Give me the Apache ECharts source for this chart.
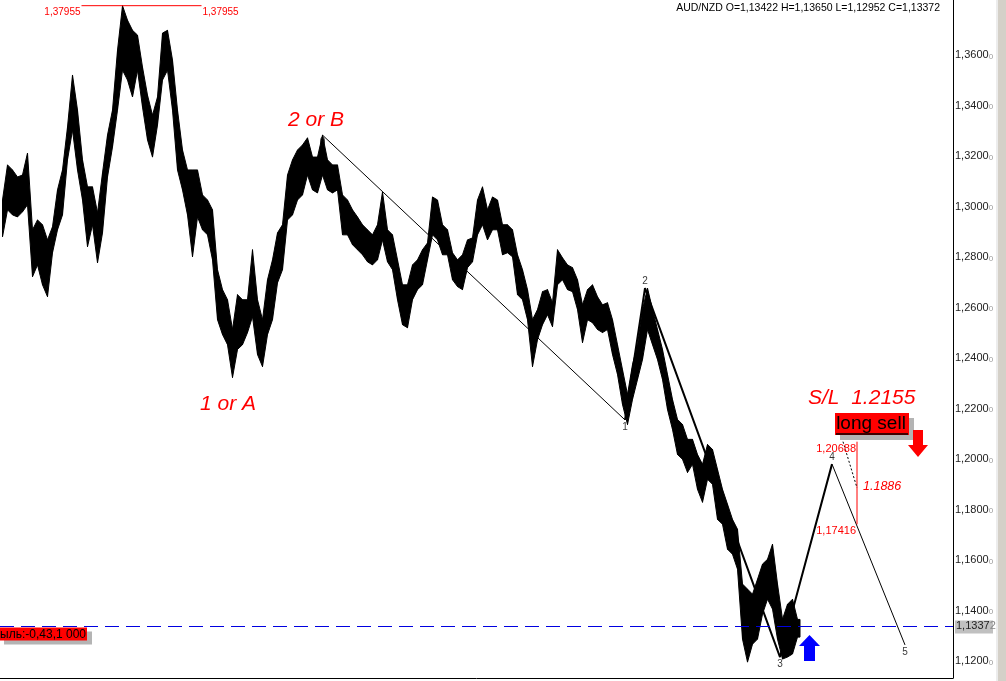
<!DOCTYPE html>
<html><head><meta charset="utf-8">
<script src="https://cdn.jsdelivr.net/npm/echarts@6/dist/echarts.min.js"></script>
<style>html,body{margin:0;padding:0;background:#fff;overflow:hidden}#c{width:1006px;height:681px}</style>
</head><body><div id="c"></div>
<script>
// ---- data ----
const symbolName = 'AUD/NZD';
const lastBar = {o: 1.13422, h: 1.13650, l: 1.12952, c: 1.13372};
// one bar every time step (high / low)
const barHigh = [
1.3026,1.3165,1.3145,1.3117,1.3125,1.3212,1.2908,1.2947,1.2928,1.2868,
1.2920,1.3066,1.3145,1.3315,1.3521,1.3382,1.3185,1.3078,1.3078,1.2975,
1.3133,1.3283,1.3382,1.3619,1.37955,1.3738,1.3698,1.3679,1.3552,1.3441,
1.3362,1.3434,1.3687,1.3698,1.3580,1.3382,1.3224,1.3145,1.3145,1.3145,
1.3046,1.3026,1.2987,1.2750,1.2671,1.2631,1.2513,1.2651,1.2631,1.2631,
1.2829,1.2631,1.2552,1.2710,1.2789,1.2896,1.2928,1.3125,1.3185,1.3224,
1.3244,1.3272,1.3196,1.3196,1.3283,1.3185,1.3165,1.3165,1.3046,1.3026,
1.2987,1.2959,1.2928,1.2908,1.2888,1.2928,1.3058,1.2908,1.2888,1.2789,
1.2690,1.2690,1.2769,1.2789,1.2829,1.2856,1.3038,1.3026,1.2928,1.2908,
1.2817,1.2789,1.2809,1.2868,1.2876,1.3026,1.3078,1.2987,1.3038,1.3026,
1.2928,1.2928,1.2908,1.2809,1.2750,1.2671,1.2552,1.2592,1.2663,1.2671,
1.2619,1.2829,1.2797,1.2769,1.2758,1.2710,1.2611,1.2671,1.2690,1.2643,
1.2611,1.2619,1.2552,1.2453,1.2354,1.2256,1.2374,1.2453,1.2592,1.2677,
1.2592,1.2513,1.2434,1.2335,1.2236,1.2157,1.2137,1.2078,1.2078,1.2018,
1.1979,1.2058,1.2038,1.1959,1.1880,1.1821,1.1761,1.1722,1.1505,1.1485,
1.1465,1.1524,1.1584,1.1603,1.1663,1.1505,1.1366,1.1425,1.1445,1.1365
];
const barLow = [
1.2880,1.2987,1.2967,1.2959,1.2979,1.3007,1.2722,1.2769,1.2690,1.2643,
1.2817,1.2908,1.2967,1.3185,1.3303,1.3145,1.3026,1.2841,1.2928,1.2777,
1.2896,1.3117,1.3236,1.3382,1.3540,1.3501,1.3434,1.3540,1.3394,1.3264,
1.3196,1.3323,1.3501,1.3540,1.3382,1.3145,1.3066,1.2967,1.2801,1.2959,
1.2908,1.2888,1.2789,1.2552,1.2493,1.2453,1.2323,1.2434,1.2453,1.2501,
1.2564,1.2414,1.2366,1.2493,1.2552,1.2698,1.2750,1.2947,1.2967,1.3026,
1.3046,1.3125,1.3066,1.3054,1.3125,1.3066,1.3054,1.3066,1.2888,1.2888,
1.2849,1.2829,1.2809,1.2781,1.2769,1.2789,1.2868,1.2781,1.2750,1.2631,
1.2532,1.2520,1.2631,1.2671,1.2690,1.2789,1.2888,1.2868,1.2809,1.2809,
1.2710,1.2683,1.2671,1.2758,1.2781,1.2888,1.2928,1.2868,1.2908,1.2908,
1.2809,1.2817,1.2801,1.2651,1.2631,1.2552,1.2366,1.2473,1.2532,1.2572,
1.2524,1.2690,1.2710,1.2671,1.2663,1.2592,1.2461,1.2552,1.2540,1.2513,
1.2501,1.2513,1.2414,1.2335,1.2216,1.2137,1.2236,1.2315,1.2394,1.2513,
1.2453,1.2394,1.2315,1.2196,1.2117,1.2018,1.1999,1.1947,1.1979,1.1880,
1.1829,1.1920,1.1900,1.1761,1.1742,1.1643,1.1623,1.1564,1.1287,1.1196,
1.1267,1.1287,1.1386,1.1445,1.1406,1.1287,1.1208,1.1216,1.1228,1.1295
];
const yTicks = [1.12,1.14,1.16,1.18,1.20,1.22,1.24,1.26,1.28,1.30,1.32,1.34,1.36];
const waveNames = ['0','1','2','3','4','5'];
const waveBar   = [64.0, 124.5, 128.5, 155.5, 165.9, 180.5];
const wavePrice = [1.3283, 1.2155, 1.2677, 1.1216, 1.1980, 1.1264];
const waveLabelPos = ['bottom','bottom','top','bottom','top','bottom'];
const topPrice = 1.37955;
const topLineBars = [15.8, 39.8];
const fibHigh = 1.20688, fibLow = 1.17416, fibMid = 1.1886;
const fibBar = 170.9, fibDotBar = 168.1;
const stopLoss = '1.2155';
const lastPrice = 1.13372;
const profitText = 'Прибыль:-0,43,1 000';
const waveTitles = ['2 or B', '1 or A'];
const signalText = 'long sell';

// ---- chart ----
const FONT = 'Liberation Sans, Arial, sans-serif';
const fmt = v => v.toFixed(5).replace('.', ',');
const chart = echarts.init(document.getElementById('c'), null, {renderer: 'canvas'});
const bars = barHigh.map((h, i) => [i, barLow[i], h]);
const wavePts = waveBar.map((b, i) => [b, wavePrice[i]]);
const nBars = bars.length;

chart.setOption({
  animation: false,
  backgroundColor: '#fff',
  grid: {left: 0, right: 53, top: 0, bottom: 3, containLabel: false, outerBoundsMode: 'none'},
  xAxis: {type: 'value', min: -0.5, max: 190.1, axisLine: {show: true, onZero: false, lineStyle: {color: '#000', width: 1}},
    axisTick: {show: false}, axisLabel: {show: false}, splitLine: {show: false}},
  yAxis: {type: 'value', position: 'right', min: 1.1133, max: 1.3818, scale: true,
    axisLine: {show: true, onZero: false, lineStyle: {color: '#000', width: 1}}, axisTick: {show: false}, splitLine: {show: false},
    axisLabel: {customValues: yTicks, margin: 2, fontFamily: FONT,
      formatter: v => { const s = fmt(v); return '{a|' + s.slice(0, -1) + '}{b|' + s.slice(-1) + '}'; },
      rich: {a: {fontSize: 11, color: '#222', fontFamily: FONT}, b: {fontSize: 8, color: '#999', fontFamily: FONT, verticalAlign: 'bottom'}}}},
  series: [
    {type: 'custom', name: symbolName, data: bars, encode: {x: 0, y: [1, 2]}, z: 2,
      renderItem: function (params, api) {
        const i = api.value(0), lo = api.value(1), hi = api.value(2);
        const j = Math.min(i + 1, nBars - 1);
        const a = api.coord([i, hi]), b = api.coord([i, lo]);
        const c = api.coord([j === i ? i + 0.5 : j, barHigh[j]]), d = api.coord([j === i ? i + 0.5 : j, barLow[j]]);
        return {type: 'polygon', shape: {points: [a, c, d, b]},
          style: {fill: '#000', stroke: '#000', lineWidth: 1}};
      }},
    {type: 'line', data: wavePts.slice(0, 2), showSymbol: false, lineStyle: {color: '#000', width: 1}, z: 3, silent: true},
    {type: 'line', data: wavePts.slice(1, 5), showSymbol: false, lineStyle: {color: '#000', width: 2}, z: 3, silent: true},
    {type: 'line', data: wavePts.slice(4, 6), showSymbol: false, lineStyle: {color: '#000', width: 1}, z: 3, silent: true,
      markLine: {silent: true, symbol: 'none', z: 5, precision: 5, label: {show: false},
        lineStyle: {color: '#0000e0', width: 1, type: [14, 7]}, data: [{yAxis: lastPrice}]}},
    {type: 'scatter', symbolSize: 0, z: 4, silent: true,
      data: wavePts.map((p, i) => ({value: p, label: {show: true, position: waveLabelPos[i], distance: 2,
        formatter: waveNames[i], color: '#000', fontSize: 10, fontFamily: FONT}}))},
    {type: 'line', data: [[topLineBars[0], topPrice], [topLineBars[1], topPrice]], showSymbol: false,
      lineStyle: {color: '#ff0000', width: 1}, z: 3, silent: true},
    {type: 'line', data: [[fibBar, fibHigh], [fibBar, fibLow]], showSymbol: false,
      lineStyle: {color: '#ff0000', width: 1}, z: 3, silent: true},
    {type: 'line', data: [[fibDotBar, fibHigh], [fibBar, fibMid]], showSymbol: false,
      lineStyle: {color: '#000', width: 1, type: [2, 2]}, z: 3, silent: true}
  ]
});

const px = (b, p) => chart.convertToPixel({gridIndex: 0}, [b, p]);
const tl = px(topLineBars[0], topPrice), tr = px(topLineBars[1], topPrice);
const fh = px(fibBar, fibHigh), fl = px(fibBar, fibLow), fm = px(fibBar, fibMid);
const lp = px(0, lastPrice);
const redItalic = {fill: '#ff0000', font: 'italic 21px ' + FONT};
const lastStr = fmt(lastPrice);

chart.setOption({graphic: [
  {type: 'rect', shape: {x: 996, y: 0, width: 10, height: 681}, style: {fill: '#d4d0c8'}, z: 1},
  {type: 'rect', shape: {x: 996, y: 0, width: 2, height: 681}, style: {fill: '#ececec'}, z: 1},
  {type: 'text', x: 940, y: 8, style: {text: symbolName + ' O=' + fmt(lastBar.o) + ' H=' + fmt(lastBar.h) + ' L=' + fmt(lastBar.l) + ' C=' + fmt(lastBar.c),
    fill: '#000', font: '10.5px ' + FONT, align: 'right', verticalAlign: 'middle'}, z: 10},
  {type: 'text', x: tl[0] - 1, y: tl[1] + 7, style: {text: fmt(topPrice), fill: '#ff0000', font: '10px ' + FONT, align: 'right', verticalAlign: 'middle'}, z: 10},
  {type: 'text', x: tr[0] + 1, y: tr[1] + 7, style: {text: fmt(topPrice), fill: '#ff0000', font: '10px ' + FONT, align: 'left', verticalAlign: 'middle'}, z: 10},
  {type: 'text', x: 288, y: 120, style: Object.assign({text: waveTitles[0], align: 'left', verticalAlign: 'middle'}, redItalic), z: 10},
  {type: 'text', x: 200, y: 404, style: Object.assign({text: waveTitles[1], align: 'left', verticalAlign: 'middle'}, redItalic), z: 10},
  {type: 'text', x: 808, y: 398, style: Object.assign({text: 'S/L  ' + stopLoss, align: 'left', verticalAlign: 'middle'}, redItalic), z: 10},
  {type: 'rect', shape: {x: 840, y: 418, width: 74, height: 22}, style: {fill: '#b4b4b4'}, z: 10},
  {type: 'rect', shape: {x: 835, y: 413, width: 74, height: 22}, style: {fill: '#ff0000'}, z: 11},
  {type: 'text', x: 871, y: 424, style: {text: signalText, fill: '#000', font: '19px ' + FONT, align: 'center', verticalAlign: 'middle'}, z: 12},
  {type: 'line', shape: {x1: 836, y1: 434, x2: 908, y2: 434}, style: {stroke: '#000', lineWidth: 1.5}, z: 12},
  {type: 'polygon', shape: {points: [[913, 430], [923, 430], [923, 445], [928, 445], [918, 457], [908, 445], [913, 445]]}, style: {fill: '#ff0000'}, z: 10},
  {type: 'polygon', shape: {points: [[809.5, 635], [820, 646], [815, 646], [815, 661], [804, 661], [804, 646], [799, 646]]}, style: {fill: '#0000ff'}, z: 10},
  {type: 'text', x: fh[0] - 1, y: fh[1] + 7, style: {text: fmt(fibHigh), fill: '#ff0000', font: '11px ' + FONT, align: 'right', verticalAlign: 'middle'}, z: 10},
  {type: 'text', x: fl[0] - 1, y: fl[1] + 7, style: {text: fmt(fibLow), fill: '#ff0000', font: '11px ' + FONT, align: 'right', verticalAlign: 'middle'}, z: 10},
  {type: 'text', x: fm[0] + 6, y: fm[1] - 1, style: {text: String(fibMid), fill: '#ff0000', font: 'italic 12.5px ' + FONT, align: 'left', verticalAlign: 'middle'}, z: 10},
  {type: 'rect', shape: {x: 4, y: lp[1] + 5, width: 88, height: 13}, style: {fill: '#b4b4b4'}, z: 10},
  {type: 'rect', shape: {x: 0, y: lp[1] + 1, width: 87, height: 13}, style: {fill: '#ff0000'}, z: 11},
  {type: 'text', x: 86, y: lp[1] + 8, style: {text: profitText, fill: '#000', font: '12px ' + FONT, align: 'right', verticalAlign: 'middle'}, z: 12},
  {type: 'rect', shape: {x: 955, y: lp[1] - 6, width: 38, height: 13}, style: {fill: '#c0c0c0'}, z: 10},
  {type: 'text', x: 956, y: lp[1], style: {rich: {a: {fontSize: 11, fill: '#222', fontFamily: FONT}, b: {fontSize: 11, fill: '#888', fontFamily: FONT}},
    text: '{a|' + lastStr.slice(0, -1) + '}{b|' + lastStr.slice(-1) + '}', align: 'left', verticalAlign: 'middle'}, z: 11}
]});
</script></body></html>
